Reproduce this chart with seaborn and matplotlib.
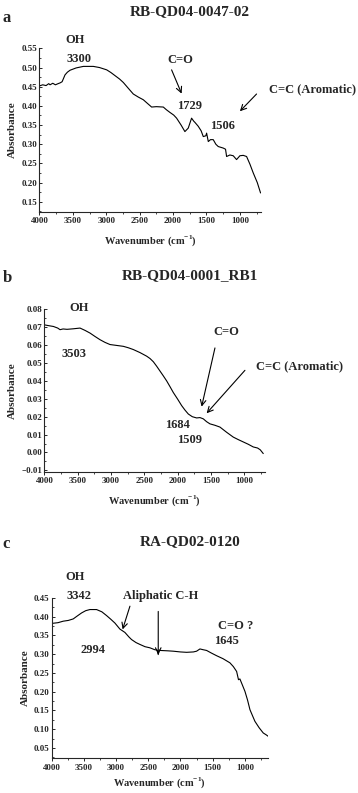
import pandas as pd
import seaborn as sns
import matplotlib.pyplot as plt
from matplotlib.ticker import MultipleLocator

# panel a : RB-QD04-0047-02
wn_a = [4000, 3950, 3900, 3860, 3840, 3800, 3760, 3720, 3690, 3660, 3616, 3580, 3541,
        3450, 3342, 3250, 3193, 3100, 2993, 2930, 2869, 2800, 2744, 2670, 2595, 2520,
        2445, 2380, 2321, 2250, 2146, 2100, 2047, 1990, 1947, 1880, 1823, 1773, 1723,
        1690, 1673, 1624, 1580, 1548, 1510, 1498, 1473, 1440, 1399, 1360, 1324, 1249,
        1215, 1199, 1150, 1100, 1050, 1000, 950, 900, 850, 800, 740, 691]
abs_a = [0.452, 0.455, 0.453, 0.458, 0.455, 0.459, 0.455, 0.458, 0.460, 0.463, 0.481,
         0.488, 0.493, 0.499, 0.503, 0.503, 0.503, 0.500, 0.494, 0.487, 0.479, 0.470,
         0.461, 0.446, 0.431, 0.423, 0.416, 0.406, 0.397, 0.398, 0.397, 0.390, 0.383,
         0.376, 0.368, 0.350, 0.333, 0.342, 0.368, 0.360, 0.357, 0.347, 0.335, 0.320,
         0.322, 0.329, 0.307, 0.312, 0.312, 0.300, 0.294, 0.290, 0.287, 0.268, 0.272,
         0.270, 0.260, 0.270, 0.271, 0.268, 0.248, 0.225, 0.200, 0.173]

# panel b : RB-QD04-0001_RB1
wn_b = [4000, 3930, 3865, 3800, 3765, 3720, 3660, 3565, 3465, 3390, 3315, 3240, 3165,
        3090, 3015, 2915, 2815, 2740, 2665, 2565, 2465, 2415, 2365, 2315, 2265, 2215,
        2165, 2115, 2065, 2000, 1940, 1890, 1840, 1780, 1715, 1665, 1615, 1565, 1515,
        1440, 1365, 1265, 1165, 1090, 1015, 940, 865, 800, 760, 715]
abs_b = [0.0713, 0.0708, 0.0704, 0.0695, 0.0686, 0.0690, 0.0688, 0.0691, 0.0695, 0.0682,
         0.0667, 0.0648, 0.0630, 0.0615, 0.0603, 0.0598, 0.0593, 0.0585, 0.0575, 0.0558,
         0.0538, 0.0525, 0.0507, 0.0482, 0.0455, 0.0428, 0.0400, 0.0368, 0.0335, 0.0298,
         0.0262, 0.0237, 0.0215, 0.0200, 0.0193, 0.0195, 0.0188, 0.0172, 0.0160, 0.0152,
         0.0142, 0.0113, 0.0086, 0.0072, 0.0059, 0.0046, 0.0031, 0.0025, 0.0015, -0.0006]

# panel c : RA-QD02-0120
wn_c = [4000, 3900, 3819, 3740, 3664, 3600, 3534, 3470, 3405, 3302, 3220, 3147, 3080,
        3017, 2940, 2862, 2800, 2759, 2690, 2629, 2550, 2474, 2400, 2360, 2345, 2330,
        2319, 2200, 2112, 2000, 1905, 1800, 1750, 1698, 1650, 1595, 1520, 1440, 1340,
        1233, 1180, 1129, 1100, 1078, 1040, 1000, 960, 922, 880, 845, 780, 716, 670, 638]
abs_c = [0.382, 0.384, 0.388, 0.390, 0.394, 0.402, 0.410, 0.416, 0.419, 0.419, 0.413,
         0.403, 0.393, 0.383, 0.367, 0.358, 0.346, 0.339, 0.331, 0.326, 0.320, 0.317,
         0.312, 0.311, 0.299, 0.311, 0.310, 0.309, 0.308, 0.306, 0.305, 0.306, 0.308,
         0.314, 0.312, 0.310, 0.303, 0.296, 0.288, 0.277, 0.267, 0.254, 0.232, 0.234,
         0.218, 0.201, 0.178, 0.152, 0.135, 0.121, 0.104, 0.090, 0.085, 0.081]

sns.set_style("ticks")
plt.rcParams['font.family'] = ['Liberation Serif']
plt.rcParams['font.weight'] = 'bold'
plt.rcParams['mathtext.fontset'] = 'custom'
plt.rcParams['mathtext.bf'] = 'Liberation Serif:bold'

fig = plt.figure(figsize=(3.58, 7.93), dpi=100)

panels = [
    dict(wn=wn_a, ab=abs_a, rect=[0.110, 0.733, 0.618, 0.206], ylim=(0.124, 0.55),
         yt=(0.05, 0.025), title='RB-QD04-0047-02', letter='a',
         title_y=0.994, letter_y=0.988, xmin=690, lpad=6),
    dict(wn=wn_b, ab=abs_b, rect=[0.124, 0.405, 0.616, 0.205], ylim=(-0.0108, 0.08),
         yt=(0.01, 0.005), title='RB-QD04-0001_RB1', letter='b',
         title_y=0.660, letter_y=0.659, xmin=690, lpad=6),
    dict(wn=wn_c, ab=abs_c, rect=[0.144, 0.044, 0.605, 0.202], ylim=(0.023, 0.45),
         yt=(0.05, 0.025), title='RA-QD02-0120', letter='c',
         title_y=0.325, letter_y=0.324, xmin=640, lpad=3),
]

axes = []
for p in panels:
    ax = fig.add_axes(p['rect'])
    df = pd.DataFrame({'wn': p['wn'], 'ab': p['ab']})
    sns.lineplot(data=df, x='wn', y='ab', ax=ax, color='black', lw=0.8, sort=False)
    ax.set_xlim(4000, p['xmin'])
    ax.set_ylim(*p['ylim'])
    ax.xaxis.set_major_locator(MultipleLocator(500))
    ax.xaxis.set_minor_locator(MultipleLocator(250))
    ax.yaxis.set_major_locator(MultipleLocator(p['yt'][0]))
    ax.yaxis.set_minor_locator(MultipleLocator(p['yt'][1]))
    ax.yaxis.set_major_formatter('{x:.2f}')
    ax.tick_params(axis='both', which='major', labelsize=6.5, length=2.5, width=0.7, pad=1.5)
    ax.tick_params(axis='both', which='minor', length=1.5, width=0.6)
    ax.tick_params(axis='y', which='both', direction='in')
    for lab in ax.get_xticklabels() + ax.get_yticklabels():
        lab.set_fontweight('bold')
    sns.despine(ax=ax)
    for s in ['left', 'bottom']:
        ax.spines[s].set_linewidth(0.8)
    ax.set_xlabel('Wavenumber (cm$^{\\mathbf{-1}}$)', fontsize=7.5, fontweight='bold',
                  labelpad=p['lpad'])
    ax.set_ylabel('Absorbance', fontsize=8, fontweight='bold', labelpad=3)
    fig.text(0.53, p['title_y'], p['title'], fontsize=11, fontweight='bold',
             ha='center', va='top')
    fig.text(0.008, p['letter_y'], p['letter'], fontsize=12, fontweight='bold',
             ha='left', va='top')
    axes.append(ax)

arrow = dict(arrowstyle='->', color='black', lw=0.8, shrinkA=0, shrinkB=0)
txt = dict(fontsize=9, fontweight='bold', ha='center', va='center', annotation_clip=False)

ax = axes[0]
ax.annotate('OH', (3467, 0.573), **txt)
ax.annotate('3300', (3402, 0.522), **txt)
ax.annotate('C=O', (1897, 0.520), **txt)
ax.annotate('', xy=(1872, 0.432), xytext=(2022, 0.494), arrowprops=arrow)
ax.annotate('1729', (1757, 0.400), **txt)
ax.annotate('1506', (1259, 0.348), **txt)
ax.annotate('C=C (Aromatic)', (-80, 0.444), **txt)
ax.annotate('', xy=(1000, 0.386), xytext=(751, 0.431), arrowprops=arrow, annotation_clip=False)

ax = axes[1]
ax.annotate('OH', (3475, 0.0806), **txt)
ax.annotate('3503', (3555, 0.0551), **txt)
ax.annotate('C=O', (1275, 0.0671), **txt)
ax.annotate('', xy=(1640, 0.0256), xytext=(1440, 0.0584), arrowprops=arrow)
ax.annotate('C=C (Aromatic)', (175, 0.0483), **txt)
ax.annotate('', xy=(1565, 0.0219), xytext=(990, 0.0459), arrowprops=arrow)
ax.annotate('1684', (2000, 0.0155), **txt)
ax.annotate('1509', (1825, 0.0072), **txt)

ax = axes[2]
ax.annotate('OH', (3638, 0.505), **txt)
ax.annotate('3342', (3576, 0.454), **txt)
ax.annotate('Aliphatic C-H', (2309, 0.454), **txt)
ax.annotate('', xy=(2898, 0.366), xytext=(2784, 0.428), arrowprops=arrow)
ax.annotate('', xy=(2345, 0.299), xytext=(2345, 0.414), arrowprops=arrow)
ax.annotate('2994', (3364, 0.310), **txt)
ax.annotate('C=O ?', (1140, 0.374), **txt)
ax.annotate('1645', (1284, 0.334), **txt)

fig.savefig('out.png', dpi=100)
